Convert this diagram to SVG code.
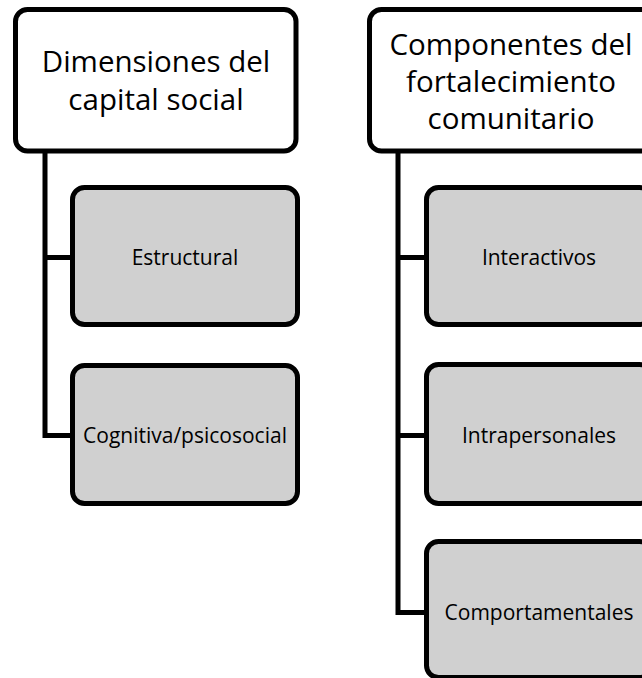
<svg xmlns="http://www.w3.org/2000/svg" width="642" height="678" viewBox="0 0 642 678">
<style>
.top{fill:#ffffff;stroke:#000;stroke-width:5}
.child{fill:#d0d0d0;stroke:#000;stroke-width:5}
.conn{fill:none;stroke:#000;stroke-width:5;stroke-linejoin:miter}
.tt{font-family:"Open Sans","Noto Sans",sans-serif;font-size:29.5px;fill:#000;text-anchor:middle}
.ct{font-family:"Open Sans","Noto Sans",sans-serif;font-size:21px;fill:#000;text-anchor:middle}
</style>
<rect width="642" height="678" fill="#fff"/>
<g id="connectors">
<path class="conn" d="M45,151 V435.5 H73"/>
<path class="conn" d="M45,257.5 H73"/>
<path class="conn" d="M398,151 V612.5 H427"/>
<path class="conn" d="M398,257.5 H427"/>
<path class="conn" d="M398,435.5 H427"/>
</g>
<g id="n1">
<rect class="top" x="15.5" y="9.5" width="280.5" height="141.5" rx="12"/>
<text class="tt" x="156" y="72">Dimensiones del</text>
<text class="tt" x="156" y="110">capital social</text>
</g>
<g id="n2">
<rect class="child" x="72.5" y="187.5" width="225" height="137" rx="12"/>
<text class="ct" x="185" y="265">Estructural</text>
</g>
<g id="n3">
<rect class="child" x="72.5" y="365.5" width="225" height="138" rx="12"/>
<text class="ct" x="185" y="443">Cognitiva/psicosocial</text>
</g>
<g id="n4">
<rect class="top" x="369.5" y="9.5" width="284" height="141.5" rx="12"/>
<text class="tt" x="511" y="55">Componentes del</text>
<text class="tt" x="511" y="92">fortalecimiento</text>
<text class="tt" x="511" y="129">comunitario</text>
</g>
<g id="n5">
<rect class="child" x="426.5" y="187.5" width="225" height="137" rx="12"/>
<text class="ct" x="539" y="265">Interactivos</text>
</g>
<g id="n6">
<rect class="child" x="426.5" y="364.5" width="225" height="139" rx="12"/>
<text class="ct" x="539" y="443">Intrapersonales</text>
</g>
<g id="n7">
<rect class="child" x="426.5" y="541.5" width="225" height="136" rx="12"/>
<text class="ct" x="539" y="620">Comportamentales</text>
</g>
</svg>
